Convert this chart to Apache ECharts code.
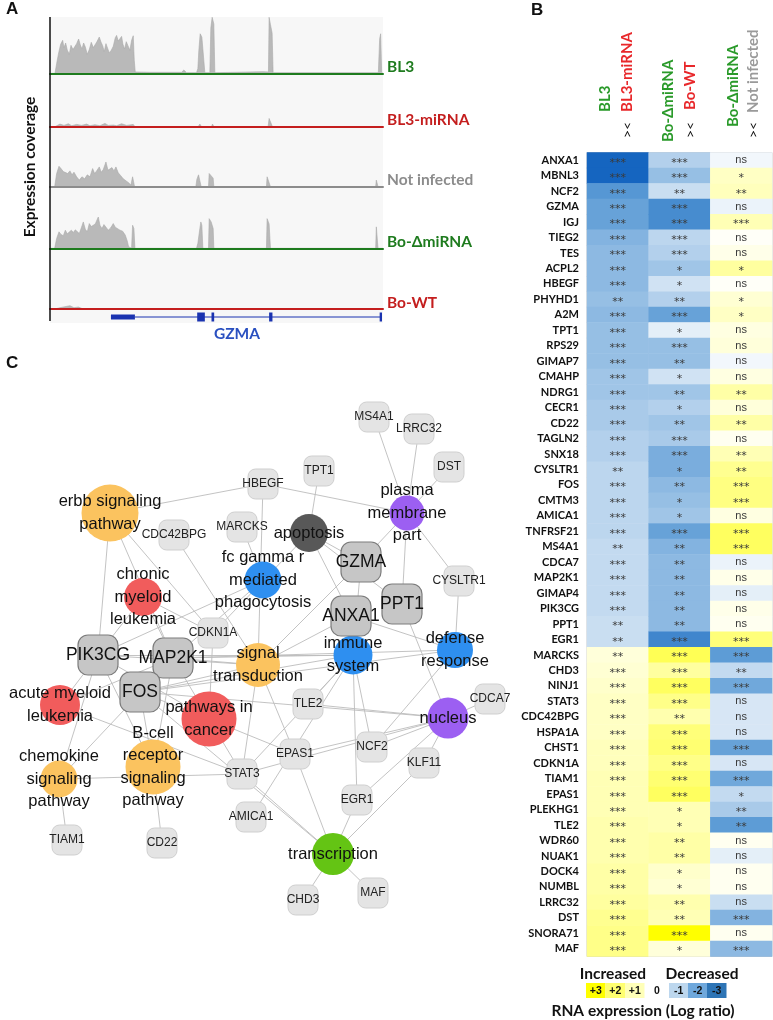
<!DOCTYPE html>
<html>
<head>
<meta charset="utf-8">
<script src="https://cdn.jsdelivr.net/npm/echarts@6/dist/echarts.min.js"></script>
<style>
  html, body { margin: 0; padding: 0; background: #fff; }
  #chart { width: 773px; height: 1020px; }
</style>
</head>
<body>
<div id="chart"></div>
<script>
// ---------- Panel A: coverage tracks (position 0-1000 along the locus, height in coverage units)
const trackNames = ['BL3', 'BL3-miRNA', 'Not infected', 'Bo-ΔmiRNA', 'Bo-WT'];
const covBL3 = [[0,0],[15,0],[20,30],[26,62],[32,88],[38,100],[42,78],[47,92],[52,70],[58,58],[63,85],[69,72],[75,66],[80,90],[86,104],[91,86],[96,74],[101,92],[106,80],[112,58],[118,72],[124,94],[130,78],[135,86],[141,96],[148,110],[153,95],[158,84],[163,66],[168,90],[173,96],[178,62],[184,70],[190,82],[196,108],[200,115],[205,98],[210,104],[215,112],[219,88],[224,74],[229,96],[234,84],[240,70],[245,100],[250,114],[253,40],[256,4],[300,3],[395,3],[402,10],[405,15],[410,2],[440,2],[444,14],[447,70],[451,120],[456,110],[461,112],[465,2],[480,2],[483,138],[487,170],[492,150],[495,2],[560,3],[640,5],[656,4],[658,170],[662,148],[667,122],[670,2],[986,2],[990,105],[993,120],[996,2],[1000,0]];
const covBL3mi = [[0,0],[15,0],[18,6],[30,8],[42,4],[55,9],[65,3],[80,7],[95,4],[110,8],[120,3],[135,6],[150,3],[165,10],[175,4],[190,5],[200,3],[215,9],[230,4],[250,7],[255,0],[445,0],[450,8],[455,0],[485,0],[488,8],[492,0],[655,0],[658,25],[664,20],[668,0],[1000,0]];
const covNotInf = [[0,0],[14,0],[20,40],[27,62],[33,55],[40,46],[46,52],[53,40],[60,48],[66,36],[72,44],[80,30],[88,20],[96,30],[104,24],[112,36],[120,30],[128,55],[134,40],[140,48],[148,60],[154,44],[160,52],[168,75],[174,50],[180,44],[186,58],[192,48],[198,60],[205,42],[212,34],[220,24],[228,18],[236,12],[243,5],[248,30],[252,30],[254,0],[438,0],[441,22],[446,36],[450,40],[454,0],[476,0],[478,40],[484,36],[490,26],[492,0],[650,0],[652,30],[658,26],[662,0],[978,0],[980,20],[985,0],[1000,0]];
const covBoDmi = [[0,0],[14,0],[20,30],[27,50],[33,42],[40,38],[46,55],[52,44],[58,40],[64,55],[70,48],[76,56],[82,60],[88,45],[94,62],[100,80],[106,58],[112,50],[118,75],[124,66],[130,60],[136,74],[141,78],[145,95],[150,70],[156,60],[162,72],[168,66],[175,55],[182,62],[190,75],[196,64],[202,60],[210,55],[218,52],[226,40],[232,22],[236,5],[245,0],[248,70],[252,60],[255,0],[440,0],[444,15],[450,60],[453,80],[456,70],[459,0],[476,0],[478,90],[484,80],[490,60],[492,0],[650,0],[652,90],[658,74],[662,0],[978,0],[980,65],[985,0],[1000,0]];
const covBoWT = [[0,0],[15,0],[18,6],[30,4],[45,7],[60,10],[72,4],[85,6],[100,0],[195,0],[197,3],[200,0],[656,0],[658,4],[664,0],[1000,0]];
const coverage = [covBL3, covBL3mi, covNotInf, covBoDmi, covBoWT];

// GZMA gene model: [start, end, kind]
const geneModel = [[183, 255, 'utr'], [442, 465, 'exon'], [485, 493, 'exon'], [658, 668, 'exon'], [990, 997, 'exon']];
const intron = [255, 997];

// ---------- Panel B: heatmap
const genes = ['ANXA1','MBNL3','NCF2','GZMA','IGJ','TIEG2','TES','ACPL2','HBEGF','PHYHD1',
  'A2M','TPT1','RPS29','GIMAP7','CMAHP','NDRG1','CECR1','CD22','TAGLN2','SNX18',
  'CYSLTR1','FOS','CMTM3','AMICA1','TNFRSF21','MS4A1','CDCA7','MAP2K1','GIMAP4','PIK3CG',
  'PPT1','EGR1','MARCKS','CHD3','NINJ1','STAT3','CDC42BPG','HSPA1A','CHST1','CDKN1A',
  'TIAM1','EPAS1','PLEKHG1','TLE2','WDR60','NUAK1','DOCK4','NUMBL','LRRC32','DST','SNORA71','MAF'];
const comparisons = ['BL3 vs BL3-miRNA', 'Bo-ΔmiRNA vs Bo-WT', 'Bo-ΔmiRNA vs Not infected'];
const logBL3 = [-3,-3,-2.1,-1.9,-1.9,-1.6,-1.5,-1.5,-1.5,-1.4,
  -1.5,-1.4,-1.4,-1.4,-1.3,-1.3,-1.2,-1.2,-1.1,-1.1,
  -1.0,-1.0,-1.0,-1.0,-1.0,-0.9,-0.9,-0.9,-0.9,-0.9,
  -0.8,-0.8,0.5,0.6,0.7,0.8,0.8,0.8,0.9,0.9,
  1.0,1.0,1.0,1.1,1.1,1.1,1.2,1.2,1.3,1.5,1.6,1.6];
const logBoWT = [-1.1,-1.4,-0.8,-2.3,-2.3,-1.0,-1.1,-1.3,-0.7,-1.1,
  -1.9,-0.4,-1.4,-1.4,-0.7,-1.3,-1.1,-1.3,-1.2,-1.7,
  -1.7,-1.5,-1.4,-1.3,-1.9,-1.6,-1.5,-1.5,-1.5,-1.5,
  -1.5,-2.4,2.2,1.3,2.1,1.6,1.1,1.8,1.9,1.6,
  1.9,2.1,1.0,1.0,1.2,1.2,0.7,0.6,1.1,1.0,3.0,0.5];
const logNotInf = [-0.2,0.8,0.9,-0.3,1.0,0.1,0.3,1.3,0.1,0.6,
  0.8,0.4,0.5,-0.2,0.4,1.2,0.5,1.2,0.2,1.0,
  1.5,1.7,1.7,0.4,2.1,2.1,-0.3,0.3,-0.4,0.3,
  0.2,1.8,-2.0,-0.9,-1.8,-0.6,-0.6,-0.6,-1.9,-0.6,
  -1.8,-0.9,-1.2,-2.0,0.2,-0.4,0.2,0.2,-0.8,-1.6,0.2,-1.5];
// significance: 0 = ns, n = number of stars
const sigBL3 = [3,3,3,3,3,3,3,3,3,2, 3,3,3,3,3,3,3,3,3,3, 2,3,3,3,3,2,3,3,3,3, 2,2,2,3,3,3,3,3,3,3, 3,3,3,3,3,3,3,3,3,3,3,3];
const sigBoWT = [3,3,2,3,3,3,3,1,1,2, 3,1,3,2,1,2,1,2,3,3, 1,2,1,1,3,2,2,2,2,2, 2,3,3,3,3,3,2,3,3,3, 3,3,1,1,2,2,1,1,2,2,3,1];
const sigNotInf = [0,1,2,0,3,0,0,1,0,1, 1,0,0,0,0,2,0,2,0,2, 2,3,3,0,3,3,0,0,0,0, 0,3,3,2,3,0,0,0,3,0, 3,1,2,2,0,0,0,0,0,3,0,3];
const legendSteps = ['+3', '+2', '+1', '0', '-1', '-2', '-3'];

// ---------- Panel C: gene / term network
const termNodes = [ // [id, label, group]
  ['erbb', 'erbb signaling\npathway', 'orange'],
  ['cml', 'chronic\nmyeloid\nleukemia', 'red'],
  ['aml', 'acute myeloid\nleukemia', 'red'],
  ['cancer', 'pathways in\ncancer', 'red'],
  ['bcell', 'B-cell\nreceptor\nsignaling\npathway', 'orange'],
  ['chemokine', 'chemokine\nsignaling\npathway', 'orange'],
  ['signal', 'signal\ntransduction', 'orange'],
  ['fcgr', 'fc gamma r\nmediated\nphagocytosis', 'blue'],
  ['apoptosis', 'apoptosis', 'dark'],
  ['plasma', 'plasma\nmembrane\npart', 'purple'],
  ['immune', 'immune\nsystem', 'blue'],
  ['defense', 'defense\nresponse', 'blue'],
  ['nucleus', 'nucleus', 'purple'],
  ['transcription', 'transcription', 'green']
];
const hubGenes = ['GZMA', 'PPT1', 'ANXA1', 'PIK3CG', 'MAP2K1', 'FOS'];
const leafGenes = ['MS4A1','LRRC32','DST','TPT1','HBEGF','MARCKS','CDC42BPG','CYSLTR1','CDKN1A','TLE2','CDCA7',
  'NCF2','EPAS1','KLF11','STAT3','EGR1','AMICA1','TIAM1','CD22','CHD3','MAF'];
const edges = [
  ['erbb','HBEGF'],['erbb','PIK3CG'],['erbb','MAP2K1'],['erbb','CDKN1A'],
  ['cml','PIK3CG'],['cml','MAP2K1'],['cml','CDKN1A'],
  ['aml','PIK3CG'],['aml','MAP2K1'],['aml','STAT3'],
  ['cancer','PIK3CG'],['cancer','MAP2K1'],['cancer','FOS'],['cancer','CDKN1A'],['cancer','STAT3'],['cancer','EPAS1'],
  ['bcell','PIK3CG'],['bcell','MAP2K1'],['bcell','FOS'],['bcell','CD22'],
  ['chemokine','PIK3CG'],['chemokine','MAP2K1'],['chemokine','STAT3'],['chemokine','TIAM1'],
  ['signal','CDC42BPG'],['signal','HBEGF'],['signal','PIK3CG'],['signal','MAP2K1'],['signal','FOS'],['signal','STAT3'],['signal','EPAS1'],['signal','GZMA'],['signal','ANXA1'],
  ['fcgr','MARCKS'],['fcgr','PIK3CG'],['fcgr','MAP2K1'],
  ['apoptosis','TPT1'],['apoptosis','GZMA'],['apoptosis','ANXA1'],['apoptosis','CDKN1A'],['apoptosis','PPT1'],
  ['plasma','HBEGF'],['plasma','MS4A1'],['plasma','LRRC32'],['plasma','DST'],['plasma','GZMA'],['plasma','PPT1'],['plasma','CYSLTR1'],
  ['immune','ANXA1'],['immune','GZMA'],['immune','PIK3CG'],['immune','MAP2K1'],['immune','FOS'],['immune','TLE2'],['immune','NCF2'],['immune','EGR1'],['immune','STAT3'],['immune','AMICA1'],
  ['defense','CYSLTR1'],['defense','ANXA1'],['defense','NCF2'],['defense','MAP2K1'],['defense','FOS'],
  ['nucleus','TLE2'],['nucleus','FOS'],['nucleus','NCF2'],['nucleus','EPAS1'],['nucleus','KLF11'],['nucleus','CDCA7'],['nucleus','EGR1'],['nucleus','PPT1'],['nucleus','STAT3'],
  ['transcription','STAT3'],['transcription','FOS'],['transcription','EPAS1'],['transcription','EGR1'],['transcription','KLF11'],['transcription','CHD3'],['transcription','MAF']
];

// layout of the network (drawing coordinates of panel C)
const layoutXY = {
  erbb: [110, 513], cml: [143, 597], aml: [60, 705], cancer: [209, 719], bcell: [153, 767], chemokine: [59, 779],
  signal: [258, 665], fcgr: [263, 580], apoptosis: [309, 533], plasma: [407, 513], immune: [353, 655],
  defense: [455, 650], nucleus: [448, 718], transcription: [333, 854],
  GZMA: [361, 562], PPT1: [402, 604], ANXA1: [351, 616], PIK3CG: [98, 655], MAP2K1: [173, 658], FOS: [140, 692],
  MS4A1: [374, 417], LRRC32: [419, 429], DST: [449, 467], TPT1: [319, 471], HBEGF: [263, 484], MARCKS: [242, 527],
  CDC42BPG: [174, 535], CYSLTR1: [459, 581], CDKN1A: [213, 633], TLE2: [308, 704], CDCA7: [490, 699],
  NCF2: [372, 747], EPAS1: [295, 754], KLF11: [424, 763], STAT3: [242, 774], EGR1: [357, 800],
  AMICA1: [251, 817], TIAM1: [67, 840], CD22: [162, 843], CHD3: [303, 900], MAF: [373, 893]
};
const termSize = { erbb: 57, cml: 38, aml: 40, cancer: 55, bcell: 55, chemokine: 37, signal: 44, fcgr: 37,
  apoptosis: 38, plasma: 35, immune: 39, defense: 36, nucleus: 41, transcription: 42 };
const groupColor = { orange: '#fbc35f', red: '#f15c5c', blue: '#2e8ff0', purple: '#9c5ff2', dark: '#585858', green: '#64c414' };

// ---------- build
const FONT_A = 'Lato, "Open Sans", sans-serif';
const FONT_C = '"Liberation Sans", Arial, sans-serif';
const FONT_STAR = '"DejaVu Sans", sans-serif';
const trackColor = ['#1e7b1e', '#c41e1e', '#8c8c8c', '#1e7b1e', '#c41e1e'];
const trackBase = [73.3, 126.7, 186.7, 248.3, 309];

const grids = [], xAxes = [], yAxes = [], series = [];

trackNames.forEach((name, i) => {
  grids.push({ left: 50, width: 333, top: trackBase[i] - 56, height: 56 });
  xAxes.push({ gridIndex: i, type: 'value', min: 0, max: 1000, z: 5,
    axisLine: { show: true, onZero: false, lineStyle: { color: trackColor[i], width: 2 } },
    axisTick: { show: false }, axisLabel: { show: false }, splitLine: { show: false } });
  yAxes.push({ gridIndex: i, type: 'value', min: 0, max: 170, show: false });
  series.push({ name, type: 'line', xAxisIndex: i, yAxisIndex: i, data: coverage[i], symbol: 'none',
    lineStyle: { color: '#a9a9a9', width: 0.6 }, areaStyle: { color: '#b9b9b9', opacity: 1 } });
});

// gene model grid (5)
grids.push({ left: 50, width: 333, top: 310, height: 14 });
xAxes.push({ gridIndex: 5, type: 'value', min: 0, max: 1000, show: false });
yAxes.push({ gridIndex: 5, type: 'value', min: 0, max: 1, show: false });
series.push({ type: 'line', xAxisIndex: 5, yAxisIndex: 5, symbol: 'none',
  data: [[intron[0], 0.5], [intron[1], 0.5]], lineStyle: { color: '#1a33b0', width: 1 } });
series.push({ type: 'custom', xAxisIndex: 5, yAxisIndex: 5,
  data: geneModel.map(g => [g[0], g[1]]),
  renderItem: (params, api) => {
    const s = api.coord([api.value(0), 0.5]);
    const e = api.coord([api.value(1), 0.5]);
    const h = geneModel[params.dataIndex][2] === 'utr' ? 5 : 9;
    return { type: 'rect', shape: { x: s[0], y: s[1] - h / 2, width: Math.max(e[0] - s[0], 2), height: h },
      style: { fill: '#1a33b0' } };
  } });

// heatmap grid (6)
grids.push({ left: 587, top: 152.5, width: 185, height: 804, show: true, borderColor: '#c8c8c8', borderWidth: 1 });
xAxes.push({ gridIndex: 6, type: 'category', data: comparisons, show: false });
yAxes.push({ gridIndex: 6, type: 'category', data: genes, inverse: true,
  axisLine: { show: false }, axisTick: { show: false }, splitLine: { show: false },
  axisLabel: { interval: 0, margin: 8, fontFamily: FONT_A, fontWeight: 'bold', fontSize: 11, color: '#111' } });
const cols = [logBL3, logBoWT, logNotInf];
const sigs = [sigBL3, sigBoWT, sigNotInf];
const heatData = [];
cols.forEach((col, c) => col.forEach((v, r) => {
  const s = sigs[c][r];
  heatData.push({ value: [c, r, v], label: s
    ? { formatter: '*'.repeat(s), offset: [0, 2.5], fontSize: 11, fontFamily: FONT_STAR }
    : { formatter: 'ns', offset: [0, 0], fontSize: 11, fontFamily: FONT_C } });
}));
series.push({ type: 'heatmap', xAxisIndex: 6, yAxisIndex: 6, data: heatData,
  label: { show: true, color: '#3a3a3a' }, emphasis: { disabled: true } });
const heatIndex = series.length - 1;

// network grid (7)
grids.push({ left: 0, top: 340, width: 505, height: 680 });
xAxes.push({ gridIndex: 7, type: 'value', min: 0, max: 505, show: false });
yAxes.push({ gridIndex: 7, type: 'value', min: 340, max: 1020, inverse: true, show: false });
const nodes = [];
termNodes.forEach(([id, label, group]) => nodes.push({
  name: id, value: layoutXY[id], symbol: 'circle', symbolSize: termSize[id],
  itemStyle: { color: groupColor[group] },
  label: { formatter: label, fontSize: 16.5, lineHeight: 22.5, color: '#111' } }));
hubGenes.forEach(g => nodes.push({
  name: g, value: layoutXY[g], symbol: 'roundRect', symbolSize: 40,
  itemStyle: { color: '#c6c6c6', borderColor: '#7c7c7c', borderWidth: 1.2 },
  label: { fontSize: 17.5, color: '#111' } }));
leafGenes.forEach(g => nodes.push({
  name: g, value: layoutXY[g], symbol: 'roundRect', symbolSize: 30,
  itemStyle: { color: '#e4e4e4', borderColor: '#cfcfcf', borderWidth: 1 },
  label: { fontSize: 12, color: '#222' } }));
series.push({ type: 'graph', coordinateSystem: 'cartesian2d', xAxisIndex: 7, yAxisIndex: 7,
  layout: 'none', silent: true, data: nodes,
  links: edges.map(([a, b]) => ({ source: a, target: b })),
  lineStyle: { color: '#bcbcbc', width: 0.9, opacity: 1, curveness: 0 },
  label: { show: true, position: 'inside', fontFamily: FONT_C },
  emphasis: { disabled: true } });

// ---------- decorations
const txt = (x, y, text, font, fill, extra) => Object.assign({ type: 'text', x, y, z: 10,
  style: { text, font, fill, align: 'left', verticalAlign: 'middle', textAlign: 'left', textVerticalAlign: 'middle' } }, extra || {});
const up = { rotation: Math.PI / 2 };
const centred = (o) => { o.style.align = o.style.textAlign = 'center'; return o; };

const graphic = [
  { type: 'rect', shape: { x: 50, y: 17, width: 333, height: 306 }, style: { fill: '#f7f7f7' }, z: -10 },
  { type: 'line', shape: { x1: 50, y1: 17, x2: 50, y2: 321 }, style: { stroke: '#111', lineWidth: 1.5 }, z: 10 },
  txt(6, 9, 'A', `bold 17px ${FONT_C}`, '#111'),
  txt(531, 10, 'B', `bold 17px ${FONT_C}`, '#111'),
  txt(6, 363, 'C', `bold 17px ${FONT_C}`, '#111'),
  centred(txt(30, 167, 'Expression coverage', `bold 15.5px ${FONT_A}`, '#111', up)),
  centred(txt(237, 334, 'GZMA', `bold 15.5px ${FONT_A}`, '#2a50c0')),
  // column headers of the heatmap
  txt(605, 112, 'BL3', `bold 15px ${FONT_A}`, '#2a9a2a', up),
  txt(627, 112, 'BL3-miRNA', `bold 15px ${FONT_A}`, '#e8282b', up),
  txt(627, 138, '><', `14px ${FONT_A}`, '#111', up),
  txt(668, 142, 'Bo-ΔmiRNA', `bold 15px ${FONT_A}`, '#2a9a2a', up),
  txt(690, 110, 'Bo-WT', `bold 15px ${FONT_A}`, '#e8282b', up),
  txt(690, 138, '><', `14px ${FONT_A}`, '#111', up),
  txt(733, 127, 'Bo-ΔmiRNA', `bold 15px ${FONT_A}`, '#2a9a2a', up),
  txt(753, 113, 'Not infected', `bold 15px ${FONT_A}`, '#9a9a9a', up),
  txt(753, 138, '><', `14px ${FONT_A}`, '#111', up),
  // legend
  centred(txt(613, 974, 'Increased', `bold 15.5px ${FONT_A}`, '#111')),
  centred(txt(702, 974, 'Decreased', `bold 15.5px ${FONT_A}`, '#111')),
  centred(txt(643, 1011, 'RNA expression (Log ratio)', `bold 15.5px ${FONT_A}`, '#111'))
];
trackNames.forEach((name, i) => {
  graphic.push(txt(387, trackBase[i] - 6.5, name, `bold 15.5px ${FONT_A}`, trackColor[i]));
});
const legendFill = ['#ffff00', '#ffff70', '#ffffb8', null, '#bdd7ee', '#6fa8dc', '#2e75b6'];
const legendX = [586, 605.5, 625, 650, 669, 688, 707];
legendSteps.forEach((lab, i) => {
  if (legendFill[i]) graphic.push({ type: 'rect', shape: { x: legendX[i], y: 983, width: 19.5, height: 15 }, style: { fill: legendFill[i] }, z: 9 });
  const cx = legendFill[i] ? legendX[i] + 9.75 : 657;
  graphic.push(centred(txt(cx, 991, lab, `bold 10.5px ${FONT_C}`, '#111')));
});

const chart = echarts.init(document.getElementById('chart'));
chart.setOption({
  animation: false,
  backgroundColor: '#ffffff',
  grid: grids,
  xAxis: xAxes,
  yAxis: yAxes,
  visualMap: { show: false, type: 'continuous', seriesIndex: heatIndex, dimension: 2, min: -3, max: 3,
    inRange: { color: ['#1565c0', '#5d9cd6', '#bcd6ee', '#ffffff', '#ffffb5', '#ffff6a', '#ffff00'] } },
  series,
  graphic
});
</script>
</body>
</html>
